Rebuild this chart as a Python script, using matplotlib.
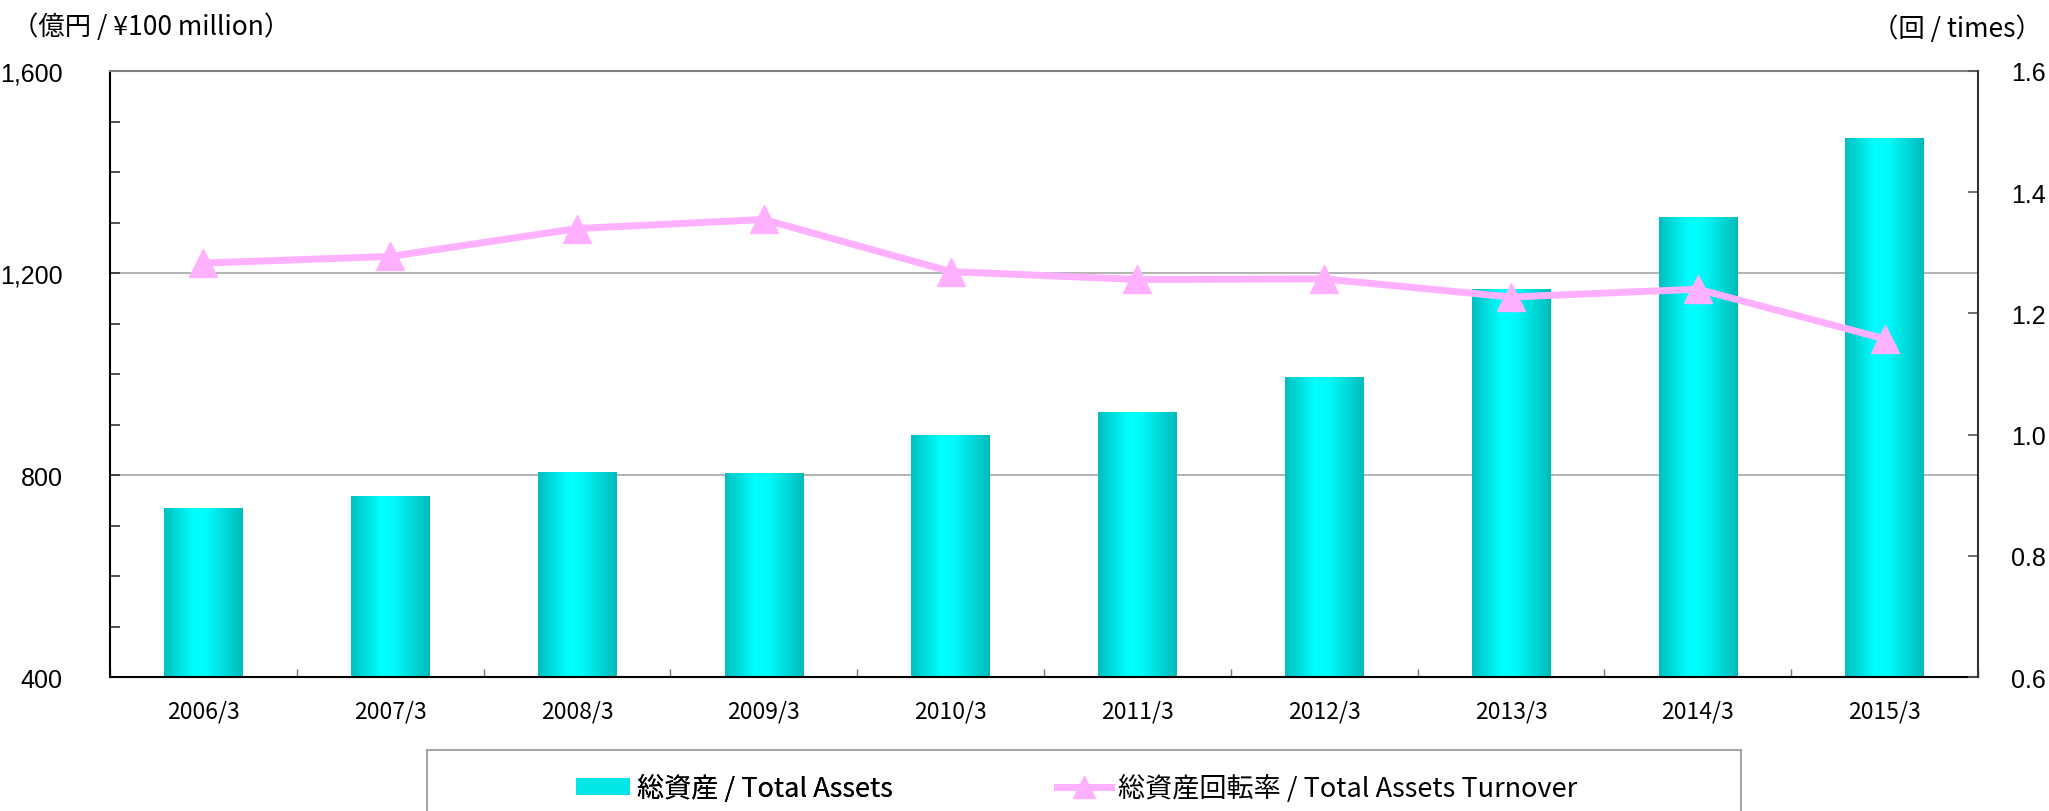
import numpy as np
import matplotlib
matplotlib.use("Agg")
import matplotlib.pyplot as plt
from matplotlib.colors import LinearSegmentedColormap
from matplotlib.patches import Rectangle, Patch
from matplotlib.lines import Line2D

# ---- data ----
categories = ["2006/3", "2007/3", "2008/3", "2009/3", "2010/3",
              "2011/3", "2012/3", "2013/3", "2014/3", "2015/3"]
total_assets = [735, 758, 806, 804, 879, 925, 995, 1168, 1310, 1467]
turnover = [1.283, 1.294, 1.340, 1.355, 1.269, 1.256, 1.257, 1.227, 1.240, 1.158]
left_ticks = [400, 800, 1200, 1600]
left_tick_labels = ["400", "800", "1,200", "1,600"]
right_ticks = [0.6, 0.8, 1.0, 1.2, 1.4, 1.6]
right_tick_labels = ["0.6", "0.8", "1.0", "1.2", "1.4", "1.6"]
label_assets = "総資産 / Total Assets"
label_turnover = "総資産回転率 / Total Assets Turnover"
left_unit = "（億円 / ¥100 million）"
right_unit = "（回 / times）"

JP = ["Noto Sans CJK JP", "DejaVu Sans"]
NUM = ["Liberation Sans", "DejaVu Sans"]

W, H = 2049, 812
fig = plt.figure(figsize=(W / 100, H / 100), dpi=100)
L, R, B, T = 110 / W, 1978 / W, 1 - 678 / H, 1 - 72 / H
ax = fig.add_axes([L, B, R - L, T - B])
ax2 = ax.twinx()

YMIN, YMAX = 400, 1600
x = np.arange(len(categories))
bar_w = 0.42
bars = ax.bar(x, total_assets, width=bar_w, facecolor="none", edgecolor="none", zorder=2)

cmap = LinearSegmentedColormap.from_list(
    "cyan_grad",
    [(0.0, "#00BFBF"), (0.38, "#00FFFF"), (0.55, "#00FAFA"), (1.0, "#00BBBB")])
grad = np.linspace(0, 1, 256).reshape(1, -1)
for rect in bars:
    x0 = rect.get_x()
    w = rect.get_width()
    h = rect.get_height()
    im = ax.imshow(grad, extent=[x0, x0 + w, YMIN, h], aspect="auto",
                   cmap=cmap, zorder=2, interpolation="bilinear")
    im.set_clip_path(rect)

ax.set_xlim(-0.5, len(categories) - 0.5)
ax.set_ylim(YMIN, YMAX)
ax.set_aspect("auto")

for g in [800, 1200]:
    ax.axhline(g, color="#A6A6A6", lw=1.2, zorder=1)

ax.set_yticks(left_ticks)
ax.set_yticklabels(left_tick_labels, fontfamily=NUM, fontsize=18)
ax.set_yticks(np.arange(400, 1601, 100), minor=True)
ax.tick_params(axis="y", which="both", direction="in", length=7, width=1.2,
               color="#333333", pad=34)
ax.set_xticks(x)
ax.set_xticklabels(categories, fontfamily=JP, fontsize=16.5)
ax.set_xticks(np.arange(-0.5, len(categories), 1.0), minor=True)
ax.tick_params(axis="x", which="major", length=0, pad=16)
ax.tick_params(axis="x", which="minor", direction="in", length=6, width=1, color="#777777")

ax.spines["left"].set_color("#000000")
ax.spines["left"].set_linewidth(1.5)
ax.spines["bottom"].set_color("#000000")
ax.spines["bottom"].set_linewidth(1.5)
ax.spines["top"].set_color("#808080")
ax.spines["top"].set_linewidth(1.5)
ax.spines["right"].set_visible(False)

pink = "#FFB0FF"
ax2.plot(x, turnover, color=pink, lw=5, marker="^", markersize=20,
         markerfacecolor=pink, markeredgecolor=pink, zorder=5)
ax2.set_ylim(0.6, 1.6)
ax2.set_yticks(right_ticks)
ax2.set_yticklabels(right_tick_labels, fontfamily=NUM, fontsize=18)
ax2.tick_params(axis="y", direction="in", length=7, width=1.2, color="#555555", pad=24)
for s in ["left", "bottom", "top"]:
    ax2.spines[s].set_visible(False)
ax2.spines["right"].set_color("#333333")
ax2.spines["right"].set_linewidth(1.5)
ax2.set_xlim(-0.5, len(categories) - 0.5)

fig.text(12 / W, 1 - 27 / H, left_unit, fontfamily=JP, fontsize=19,
         ha="left", va="center")
fig.text(2042 / W, 1 - 29 / H, right_unit, fontfamily=JP, fontsize=19,
         ha="right", va="center")

# legend box (open at bottom)
fig.patches.append(Rectangle((427 / W, -0.1), (1741 - 427) / W, 0.1 + (812 - 751) / H,
                             transform=fig.transFigure, fill=False,
                             edgecolor="#A6A6A6", lw=1.5))
FS = 19.5
leg1 = fig.legend([Patch(facecolor="#00E6E6", edgecolor="none")], [label_assets],
                  loc="center left", bbox_to_anchor=(576 / W, 1 - 789 / H),
                  frameon=False, prop={"family": JP, "size": FS},
                  handlelength=2.0, handleheight=0.55, handletextpad=0.26,
                  borderpad=0, borderaxespad=0)
leg2 = fig.legend([Line2D([0], [0], color=pink, lw=5, marker="^", markersize=16,
                          markerfacecolor=pink, markeredgecolor=pink)], [label_turnover],
                  loc="center left", bbox_to_anchor=(1057 / W, 1 - 789 / H),
                  frameon=False, prop={"family": JP, "size": FS},
                  handlelength=2.0, handletextpad=0.26,
                  borderpad=0, borderaxespad=0)
fig.add_artist(leg1)

fig.savefig("out.png", dpi=100)
